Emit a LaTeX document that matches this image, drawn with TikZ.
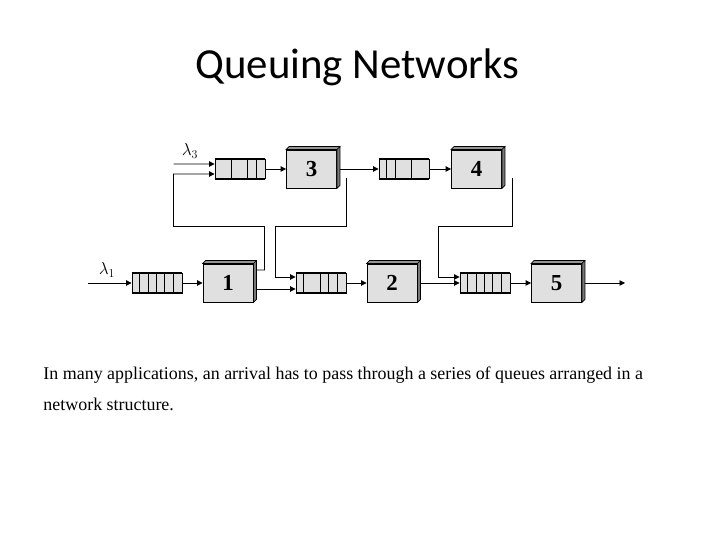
\documentclass[tikz,border=0pt]{standalone}
\usepackage{fontspec}
\setmainfont{Liberation Serif}
\newfontfamily\titlefont{Carlito}
\usetikzlibrary{arrows.meta}
\definecolor{boxgray}{RGB}{224,224,224}
\definecolor{topgray}{RGB}{150,150,150}
\definecolor{sidegray}{RGB}{120,120,120}

\begin{document}
\begin{tikzpicture}[x=1bp,y=1bp, line width=0.9bp,
  server/.style={draw, fill=boxgray, minimum width=50bp, minimum height=38bp, inner sep=0pt,
                 font=\bfseries\fontsize{23}{23}\selectfont},
  buffer/.style={draw, fill=boxgray, minimum width=50bp, minimum height=19bp, inner sep=0pt},
  flow/.style={-{Triangle[length=5.5bp,width=5.5bp]}},
  rate/.style={font=\fontsize{17}{17}\selectfont}]
\useasboundingbox (0,0) rectangle (720,540);
\node[font=\titlefont\fontsize{43}{43}\selectfont, anchor=base] (title) at (357.5,461) {Queuing Networks};

% top row
\node[buffer] (q3) at (240,371) {};
\node[server] (s3) at (311.5,371) {3};
\node[buffer] (q4) at (404,371) {};
\node[server] (s4) at (476.5,371) {4};
% bottom row
\node[buffer, minimum height=20bp] (q1) at (157,257) {};
\node[server] (s1) at (228,257) {1};
\node[buffer, minimum height=20bp] (q2) at (321,257) {};
\node[server] (s2) at (392,257) {2};
\node[buffer, minimum height=20bp] (q5) at (485,257) {};
\node[server] (s5) at (556.5,257) {5};

% queue cells
\foreach \q/\cells in {q1/{1,2,3,4,5}, q2/{1,3,4,5}, q3/{2,4,5}, q4/{1,2,4}, q5/{1,2,3,4,5}} {
  \foreach \k in \cells
    \draw ([xshift=\k*8.33bp]\q.south west) -- ([xshift=\k*8.33bp]\q.north west);
  \draw[line width=2bp] (\q.north west) -- (\q.north east) (\q.south west) -- (\q.south east);
}
% 3d look of the servers
\foreach \s in {s1,s2,s3,s4,s5} {
  \filldraw[fill=topgray, line width=0.6bp] (\s.north west) -- ++(3,3) -- ([shift={(3bp,3bp)}]\s.north east) -- (\s.north east) -- cycle;
  \filldraw[fill=sidegray, line width=0.6bp] (\s.north east) -- ++(3,3) -- ([shift={(3bp,3bp)}]\s.south east) -- (\s.south east) -- cycle;
}

% arrivals and departures
\coordinate (l1) at (88,257);
\coordinate (l3) at (173.5,376);
\coordinate (o5) at (625,257);
\node[rate] (lam1) at (107,270) {$\lambda_1$};
\node[rate] (lam3) at (190,389) {$\lambda_3$};
\draw[flow] (l1) -- (q1);
\draw[flow] (l3) -- ([yshift=5bp]q3.west);
\draw[flow] ([xshift=3bp]s5.east) -- (o5);

% straight flows
\draw[flow] (q1) -- (s1);
\draw[flow] (q2) -- (s2);
\draw[flow] (q5) -- (s5);
\draw[flow] (q3) -- (s3);
\draw[flow] (q4) -- (s4);
\draw[flow] ([shift={(3bp,-6bp)}]s1.east) -- ([yshift=-6bp]q2.west);
\draw[flow] ([xshift=3bp]s2.east) -- (q5.west);
\draw[flow] ([xshift=3bp]s3.east) -- (q4.west);

% routed flows
\draw[flow] ([shift={(3bp,13bp)}]s1.east) -| (264.5,313.5) -| (173.5,366) -- ([yshift=-5bp]q3.west);
\draw[flow] ([shift={(9bp,-9bp)}]s3.east) |- (275.5,313.5) |- ([yshift=6bp]q2.west);
\draw[flow] ([shift={(10bp,-9bp)}]s4.east) |- (438.5,313.5) |- ([yshift=6bp]q5.west);

% caption
\node[anchor=base west, font=\fontsize{18}{18}\selectfont, inner sep=0pt] (txt1) at (43,160)
  {In many applications, an arrival has to pass through a series of queues arranged in a};
\node[anchor=base west, font=\fontsize{18}{18}\selectfont, inner sep=0pt] (txt2) at (43,129)
  {network structure.};
\end{tikzpicture}
\end{document}
